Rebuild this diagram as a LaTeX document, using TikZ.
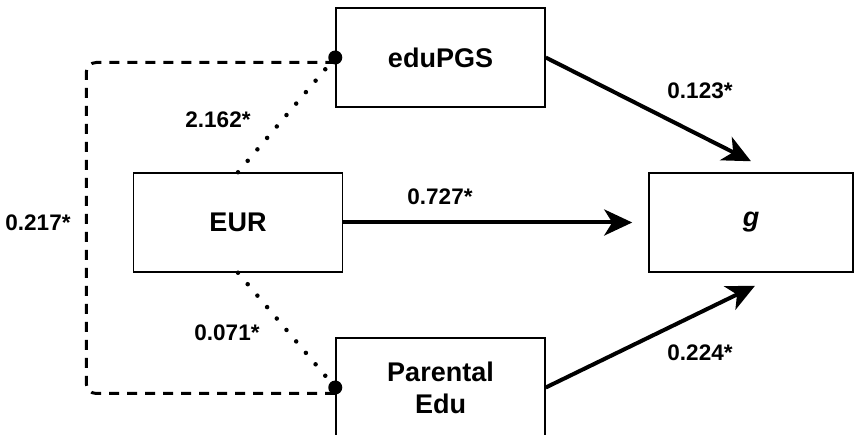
\documentclass[tikz,border=0pt]{standalone}
\usepackage{fontspec}
\setmainfont{Liberation Sans}
\usetikzlibrary{arrows.meta}

\begin{document}
\begin{tikzpicture}[
    x=1pt, y=-1pt,
    font=\bfseries\fontsize{27}{32}\selectfont,
    var/.style={draw, line width=1.5pt, minimum width=209pt, minimum height=99pt, align=center, inner sep=0pt},
    lbl/.style={font=\bfseries\fontsize{22.5}{27}\selectfont, inner sep=0pt},
    dot/.style={circle, fill, inner sep=0pt, minimum size=14pt},
    arrow/.style={-{Stealth[length=28pt, width=26pt, inset=8pt]}, line width=4pt},
    corr/.style={line width=4.5pt, dash pattern=on 0pt off 15pt, line cap=round},
    covar/.style={line width=3pt, dash pattern=on 10pt off 8pt, rounded corners=10pt}
  ]
  \useasboundingbox (0,0) rectangle (854,435);

  % Variables
  \node[var] (edu) at (440.5,57.5) {eduPGS};
  \node[var] (eur) at (238,222.5) {EUR};
  \node[var, minimum width=204pt] (g) at (751,222.5) {\textit{g}};
  \node[var] (par) at (440.5,387.5) {Parental\\Edu};

  \node[dot] (d1) at (edu.west) {};
  \node[dot] (d2) at (par.west) {};

  % Coefficients
  \node[lbl] (c1) at (218,120) {2.162*};
  \node[lbl] (c2) at (227,333) {0.071*};
  \node[lbl] (c3) at (38,223) {0.217*};
  \node[lbl] (c4) at (440,197) {0.727*};
  \node[lbl] (c5) at (700,91) {0.123*};
  \node[lbl] (c6) at (700,353) {0.224*};

  % Paths
  \draw[corr] (eur.north) -- (d1.center);
  \draw[corr] (eur.south) -- (d2.center);
  \draw[covar] ([yshift=-5pt]d1.center) -- ++(-249,0) |- ([yshift=-6pt]d2.center);
  \draw[arrow] (edu.east) -- ([yshift=11pt]g.north);
  \draw[arrow] (eur.east) -- ([xshift=-16pt]g.west);
  \draw[arrow] (par.east) -- ([shift={(4pt,-13pt)}]g.south);

\end{tikzpicture}
\end{document}
